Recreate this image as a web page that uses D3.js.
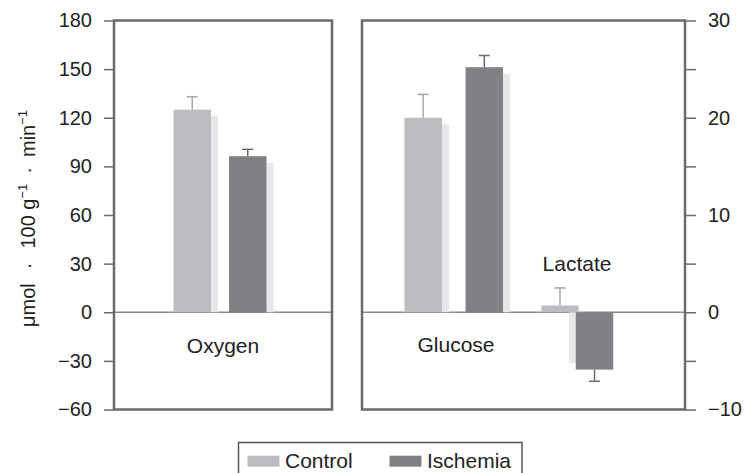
<!DOCTYPE html>
<head>
  <meta charset="utf-8">
  <script src="https://d3js.org/d3.v7.min.js"></script>
  <style>
    body { margin:0; background:#fff; }
    text { font-family: "Liberation Sans", Arial, sans-serif; fill:#222; }
  </style>
</head>
<body>
<script>
// values (umol / 100 g / min)
var categories = ["Oxygen", "Glucose", "Lactate"];
var series = ["Control", "Ischemia"];
var controlMean = [125, 20, 0.7];
var controlErr = [8, 2.4, 1.8];
var ischemiaMean = [96.3, 25.2, -5.9];
var ischemiaErr = [4.2, 1.2, 1.2];
var leftTicks = [-60, -30, 0, 30, 60, 90, 120, 150, 180];
var rightTicks = [-10, -5, 0, 5, 10, 15, 20, 25, 30];
var rightLabels = [-10, 0, 10, 20, 30];

var width = 745, height = 473;
var yTop = 20.5, yBot = 409.5;
var colors = { Control: "#bcbdc1", Ischemia: "#808185" };
var errColors = { Control: "#a7a8ac", Ischemia: "#6a6b6f" };
var shadowColor = "#e6e7e9";
var frameColor = "#6b6b6b";
var barW = 37.5;
// spacing between the two bars of each pair (the lactate pair overlaps a bit)
var pairGap = { Oxygen: 18, Glucose: 23.6, Lactate: -3 };

var svg = d3.select("body").append("svg")
  .attr("width", width)
  .attr("height", height);

var yLeft = d3.scaleLinear().domain([-60, 180]).range([yBot, yTop]);
var yRight = d3.scaleLinear().domain([-10, 30]).range([yBot, yTop]);

var panels = [
  { x0: 114, x1: 332, y: yLeft, band: d3.scaleBand().domain(["Oxygen"]).range([114, 326]) },
  { x0: 362, x1: 685, y: yRight,
    band: d3.scaleBand().domain(["Glucose", "Lactate"]).range([362, 669]).paddingOuter(0.243) }
];

var rows = [];
categories.forEach(function(c, i) {
  var p = i == 0 ? panels[0] : panels[1];
  rows.push({ cat: c, s: "Control", v: controlMean[i], e: controlErr[i], p: p });
  rows.push({ cat: c, s: "Ischemia", v: ischemiaMean[i], e: ischemiaErr[i], p: p });
});

function barX(d) {
  var c = d.p.band(d.cat) + d.p.band.bandwidth() / 2;
  var g = pairGap[d.cat];
  return d.s == "Control" ? c - g / 2 - barW : c + g / 2;
}
function errEnd(d) {
  return d.p.y(d.v >= 0 ? d.v + d.e : d.v - d.e);
}

// zero lines
panels.forEach(function(p) {
  svg.append("line")
    .attr("x1", p.x0).attr("x2", p.x1)
    .attr("y1", p.y(0)).attr("y2", p.y(0))
    .attr("stroke", "#8a8a8a").attr("stroke-width", 1.3);
});

// pale offset shadow behind each bar
svg.selectAll("rect.shadow")
  .data(rows)
  .enter().append("rect")
  .attr("class", "shadow")
  .attr("fill", shadowColor)
  .attr("x", function(d) { return d.v >= 0 ? barX(d) + barW : barX(d) - 6.5; })
  .attr("width", function(d) { return d.v >= 0 ? 7 : 6.5; })
  .attr("y", function(d) { return d.v >= 0 ? d.p.y(d.v) + 6.5 : d.p.y(0); })
  .attr("height", function(d) {
    return Math.max(0, Math.abs(d.p.y(d.v) - d.p.y(0)) - 6.5);
  });

svg.selectAll("rect.bar")
  .data(rows)
  .enter().append("rect")
  .attr("class", "bar")
  .attr("fill", function(d) { return colors[d.s]; })
  .attr("x", barX)
  .attr("width", barW)
  .attr("y", function(d) { return Math.min(d.p.y(d.v), d.p.y(0)); })
  .attr("height", function(d) { return Math.abs(d.p.y(d.v) - d.p.y(0)); });

// error bars (one-sided, away from zero)
var err = svg.selectAll("g.err")
  .data(rows)
  .enter().append("g")
  .attr("class", "err")
  .attr("stroke", function(d) { return errColors[d.s]; })
  .attr("stroke-width", 1.5);
err.append("line")
  .attr("x1", function(d) { return barX(d) + barW / 2; })
  .attr("x2", function(d) { return barX(d) + barW / 2; })
  .attr("y1", function(d) { return d.p.y(d.v); })
  .attr("y2", errEnd);
err.append("line")
  .attr("x1", function(d) { return barX(d) + barW / 2 - 5.5; })
  .attr("x2", function(d) { return barX(d) + barW / 2 + 5.5; })
  .attr("y1", errEnd)
  .attr("y2", errEnd);

// frames
panels.forEach(function(p) {
  svg.append("rect")
    .attr("x", p.x0).attr("y", yTop)
    .attr("width", p.x1 - p.x0).attr("height", yBot - yTop)
    .attr("fill", "none").attr("stroke", frameColor).attr("stroke-width", 2.5);
});

// axes
var gl = svg.append("g")
  .attr("transform", "translate(114,0)")
  .call(d3.axisLeft(yLeft).tickValues(leftTicks).tickSize(10).tickPadding(12));
var gr = svg.append("g")
  .attr("transform", "translate(685,0)")
  .call(d3.axisRight(yRight).tickValues(rightTicks).tickSize(11).tickPadding(12)
    .tickFormat(function(v) { return rightLabels.indexOf(v) >= 0 ? d3.format("")(v) : ""; }));
[gl, gr].forEach(function(g) {
  g.select(".domain").remove();
  g.selectAll(".tick line").attr("stroke", frameColor).attr("stroke-width", 1.5);
  g.selectAll(".tick text")
    .style("font-family", "'Liberation Sans', Arial, sans-serif")
    .style("font-size", "20px").attr("fill", "#222");
});

// category labels
svg.append("text").attr("x", 223).attr("y", yLeft(0) + 41)
  .attr("text-anchor", "middle").style("font-size", "21px").text("Oxygen");
svg.append("text").attr("x", 456).attr("y", yRight(0) + 40)
  .attr("text-anchor", "middle").style("font-size", "21px").text("Glucose");
svg.append("text").attr("x", 577).attr("y", yRight(0) - 41)
  .attr("text-anchor", "middle").style("font-size", "21px").text("Lactate");

// y label (wide gaps round the middle dots, as in the original)
var yl = svg.append("text")
  .attr("transform", "translate(35,0) rotate(-90)")
  .attr("x", -327)
  .style("font-size", "20px");
yl.append("tspan").text("\u03bcmol");
yl.append("tspan").attr("dx", 14).text("\u00b7");
yl.append("tspan").attr("dx", 14).text("100 g");
yl.append("tspan").attr("dy", -8).style("font-size", "13px").text("\u22121");
yl.append("tspan").attr("dy", 8).attr("dx", 10).text("\u00b7");
yl.append("tspan").attr("dx", 10).text("min");
yl.append("tspan").attr("dy", -8).style("font-size", "13px").text("\u22121");

// legend
svg.append("rect")
  .attr("x", 238.5).attr("y", 442.5).attr("width", 283.5).attr("height", 40)
  .attr("fill", "none").attr("stroke", "#555").attr("stroke-width", 1.5);
var legX = { Control: 247.5, Ischemia: 389.5 };
series.forEach(function(s) {
  svg.append("rect").attr("x", legX[s]).attr("y", 455.7)
    .attr("width", 32).attr("height", 11).attr("fill", colors[s]);
  svg.append("text").attr("x", legX[s] + 37.5).attr("y", 467.5)
    .style("font-size", "21px").text(s);
});
</script>
</body>
